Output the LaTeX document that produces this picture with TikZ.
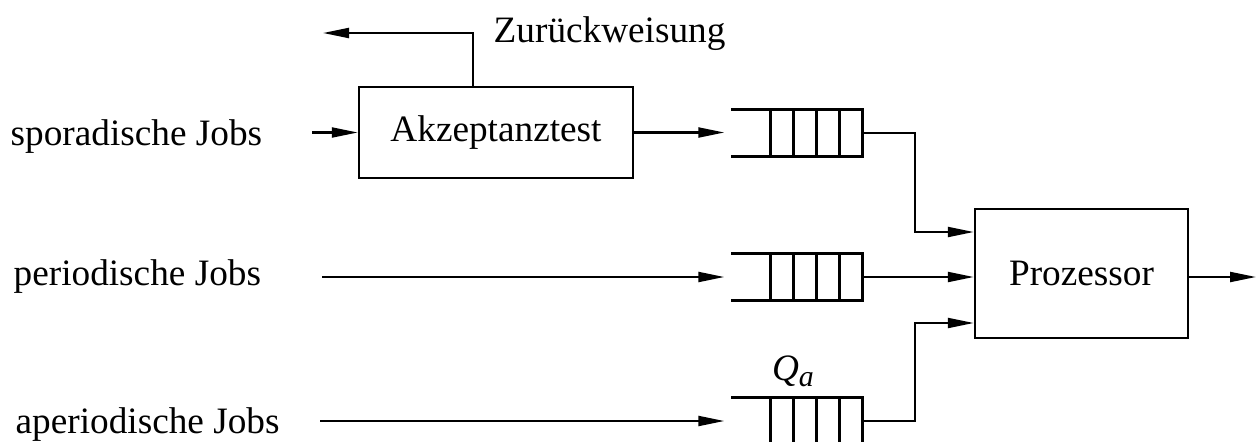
\documentclass[tikz,border=0pt]{standalone}
\usepackage{fontspec}
\setmainfont{Liberation Serif}
\usetikzlibrary{arrows.meta, positioning, calc}
\tikzset{>={Triangle[length=2.6mm,width=1.0mm]}}
\tikzset{
	block/.style={draw, line width=0.7pt, inner sep=0pt},
	warteschlange/.style={minimum width=1.3cm, minimum height=0.46cm, inner sep=0pt},
	qline/.style={line width=0.9pt},
	fluss/.style={line width=0.6pt, ->},
	eingang/.style={anchor=base west, inner sep=0pt}
}

\begin{document}
\begin{tikzpicture}[font=\fontsize{10.6}{12.7}\selectfont]
	\useasboundingbox (0,0) rectangle (12.58,4.41);

	% Bloecke
	\node [block, minimum width=2.74cm, minimum height=0.91cm] (akz) at (4.96,3.085) {Akzeptanztest};
	\node [block, minimum width=2.13cm, minimum height=1.29cm] (proz) at (10.815,1.675) {Prozessor};

	% Warteschlangen
	\node [warteschlange] (q1) at (7.97,3.08) {};
	\node [warteschlange] (q2) at (7.97,1.64) {};
	\node [warteschlange] (q3) at (7.97,0.20) {};
	\foreach \q in {q1,q2,q3} {
		\draw [qline] (\q.north west) -- (\q.north east) -- (\q.south east) -- (\q.south west);
		\foreach \i in {1,...,4}
			\draw [qline] ($(\q.north east)+(-0.23*\i,0)$) -- ($(\q.south east)+(-0.23*\i,0)$);
	}
	\node (qa) at (7.93,0.70) {\itshape Q\raisebox{-0.35ex}{\fontsize{8.5}{9}\selectfont\itshape a}};

	% Eingaenge
	\node [eingang] (spor) at (0.10,2.96) {sporadische Jobs};
	\node [eingang] (peri) at (0.13,1.56) {periodische Jobs};
	\node [eingang] (aper) at (0.15,0.08) {aperiodische Jobs};
	\coordinate (e1) at (3.12,3.085);
	\coordinate (e2) at (3.22,1.64);
	\coordinate (e3) at (3.20,0.20);

	\draw [fluss] (e1) -- (akz.west);
	\draw [fluss, shorten >=0.07cm] (e2) -- (q2.west);
	\draw [fluss, shorten >=0.07cm] (e3) -- (q3.west);
	\draw [fluss, shorten >=0.07cm] (akz.east) -- (akz.east -| q1.west);

	% Zurueckweisung
	\coordinate (ab) at (3.23,4.08);
	\draw [fluss] ([xshift=-0.23cm]akz.north) |- (ab);
	\node [eingang] (zw) at (4.93,3.99) {Zurückweisung};

	% zum Prozessor
	\draw [fluss] (q1.east) -- ++(0.52,0) |- ([yshift=0.415cm]proz.west);
	\draw [fluss] (q2.east) -- (q2.east -| proz.west);
	\draw [fluss] (q3.east) -- ++(0.52,0) |- ([yshift=-0.495cm]proz.west);
	\coordinate (aus) at (12.56,1.64);
	\draw [fluss] (proz.east |- aus) -- (aus);

\end{tikzpicture}
\end{document}
